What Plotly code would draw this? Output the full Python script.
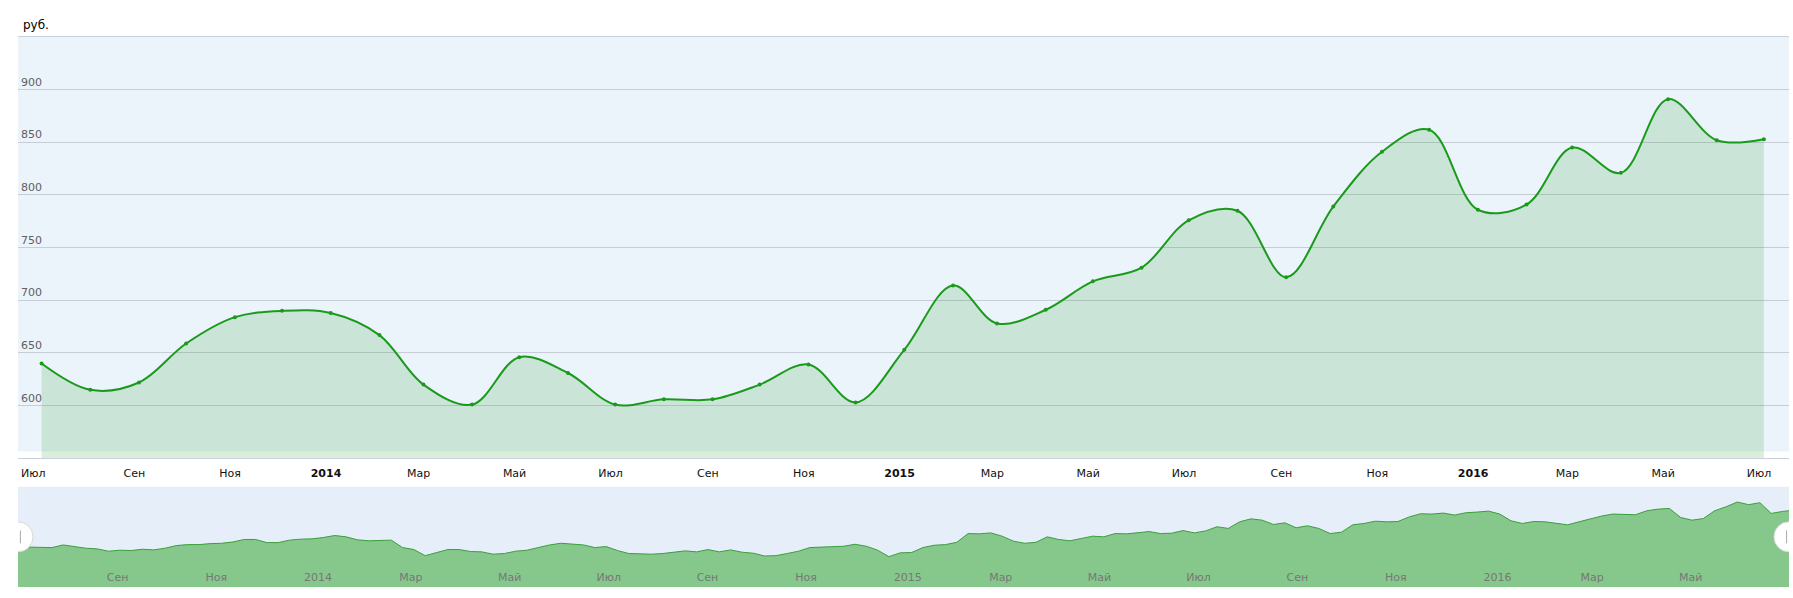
import pandas as pd
import plotly.graph_objects as go

# основной ряд: месячные точки (руб.), 4-е число каждого месяца
month_dates = pd.date_range("2013-07-01", periods=37, freq="MS") + pd.Timedelta(days=3)
price = [640, 615, 622, 659, 684, 690, 688, 667, 620, 601, 646, 631,
         601, 606, 606, 620, 639, 603, 653, 714, 678, 691, 718, 731,
         776, 785, 722, 789, 841, 862, 786, 791, 845, 821, 891, 852, 853]

nav_start = "2013-07-08"
nav_end = "2016-07-08"
nav_price = [640, 640, 640, 636, 652, 640, 632, 628, 614, 620, 618, 626, 622,
             632, 648, 654, 654, 660, 662, 670, 685, 685, 666, 666, 681, 687,
             689, 697, 709, 701, 683, 677, 681, 681, 636, 624, 587, 604, 624,
             624, 612, 610, 596, 600, 614, 620, 636, 652, 662, 656, 652, 636,
             642, 618, 600, 598, 596, 600, 608, 616, 610, 624, 610, 622, 608,
             602, 585, 587, 600, 614, 636, 638, 640, 644, 656, 644, 620, 581,
             604, 606, 636, 650, 654, 668, 721, 719, 725, 705, 675, 662, 668,
             701, 685, 677, 691, 705, 701, 721, 719, 725, 733, 721, 723, 739,
             725, 737, 762, 752, 792, 810, 802, 776, 786, 756, 768, 752, 721,
             729, 774, 782, 796, 792, 794, 822, 841, 839, 845, 833, 847, 851,
             857, 839, 798, 782, 794, 792, 782, 774, 792, 810, 827, 839, 835,
             835, 859, 869, 873, 818, 802, 812, 859, 883, 912, 896, 908, 843,
             855]
nav_last = 859

main_ticks = ["2013-07-01", "2013-09-01", "2013-11-01", "2014-01-01", "2014-03-01",
              "2014-05-01", "2014-07-01", "2014-09-01", "2014-11-01", "2015-01-01",
              "2015-03-01", "2015-05-01", "2015-07-01", "2015-09-01", "2015-11-01",
              "2016-01-01", "2016-03-01", "2016-05-01", "2016-07-01"]
main_labels = ["Июл", "Сен", "Ноя", "<b>2014</b>", "Мар", "Май", "Июл", "Сен", "Ноя",
               "<b>2015</b>", "Мар", "Май", "Июл", "Сен", "Ноя", "<b>2016</b>",
               "Мар", "Май", "Июл"]
nav_ticks = main_ticks[1:-1]
nav_labels = [t.replace("<b>", "").replace("</b>", "") for t in main_labels[1:-1]]

LINE = "#1a9a1a"
FONT = "Verdana, DejaVu Sans, sans-serif"

nav_dates = list(pd.date_range(nav_start, periods=len(nav_price), freq="7D"))
nav_dates.append(pd.Timestamp(nav_end))
nav_values = nav_price + [nav_last]

fig = go.Figure()

fig.add_trace(go.Scatter(
    x=month_dates, y=price,
    mode="lines+markers",
    line=dict(color=LINE, width=2, shape="spline", smoothing=1),
    marker=dict(size=4, color=LINE),
    fill="tozeroy", fillcolor="rgba(30,150,35,0.16)",
    hoverinfo="x+y", showlegend=False,
    xaxis="x", yaxis="y",
))

fig.add_trace(go.Scatter(
    x=nav_dates, y=nav_values,
    mode="lines",
    line=dict(color="#3a9f3a", width=1),
    fill="tozeroy", fillcolor="#86c88b",
    hoverinfo="skip", showlegend=False,
    xaxis="x2", yaxis="y2",
))

# фон графика и навигатора, ручки навигатора
h_days = pd.Timedelta(days=9.3)
ns = pd.Timestamp(nav_start)
ne = pd.Timestamp(nav_end)
shapes = [
    dict(type="rect", xref="x domain", yref="y", x0=0, x1=1, y0=556.5, y1=950,
         fillcolor="#ebf3fb", line_width=0, layer="below"),
    dict(type="rect", xref="x2 domain", yref="y2 domain", x0=0, x1=1, y0=0, y1=1,
         fillcolor="#e6eef9", line_width=0, layer="below"),
]
for c in (ns, ne):
    shapes.append(dict(type="circle", xref="x2", yref="y2",
                       x0=c - h_days, x1=c + h_days, y0=610, y1=792,
                       fillcolor="white", line=dict(color="#d8d8d8", width=1)))
shapes.append(dict(type="line", xref="x2", yref="y2",
                   x0=ns + pd.Timedelta(days=1.5), x1=ns + pd.Timedelta(days=1.5),
                   y0=662, y1=740, line=dict(color="#aaaaaa", width=1)))
shapes.append(dict(type="line", xref="x2", yref="y2",
                   x0=ne - pd.Timedelta(days=1.5), x1=ne - pd.Timedelta(days=1.5),
                   y0=662, y1=740, line=dict(color="#aaaaaa", width=1)))

# первую подпись оси plotly прячет у края (рядом с внутренними подписями y) — рисуем её отдельно
annotations = [
    dict(text="руб.", xref="paper", yref="paper", x=0, y=1,
         xanchor="left", yanchor="middle", xshift=3, yshift=12,
         showarrow=False, font=dict(size=12, color="#000")),
    dict(text=main_labels[0], xref="x", yref="y domain", x=main_ticks[0], y=0,
         xanchor="center", yanchor="top", xshift=-3, yshift=-7,
         showarrow=False, font=dict(size=11, color="#111")),
]

fig.update_layout(
    width=1793, height=598,
    margin=dict(l=18, r=4, t=37, b=11),
    paper_bgcolor="white",
    plot_bgcolor="rgba(0,0,0,0)",
    font=dict(family=FONT, size=11, color="#111"),
    showlegend=False,
    shapes=shapes,
    annotations=annotations,
    xaxis=dict(
        domain=[0, 1], anchor="y",
        range=["2013-06-19", "2016-07-20"],
        tickvals=main_ticks[1:], ticktext=main_labels[1:],
        tickfont=dict(size=11, color="#111"),
        ticklabelstandoff=4,
        showgrid=False, zeroline=False, ticks="",
        showline=True, mirror=True, linecolor="#c8d0da", linewidth=1,
    ),
    yaxis=dict(
        domain=[0.234, 1], anchor="x",
        range=[550, 950],
        tickvals=[600, 650, 700, 750, 800, 850, 900],
        ticklabelposition="inside top",
        tickfont=dict(size=11, color="#606060"),
        gridcolor="#c6cdd6", gridwidth=1,
        zeroline=False, showline=False, ticks="",
    ),
    xaxis2=dict(
        domain=[0, 1], anchor="y2",
        range=[nav_start, nav_end],
        tickvals=nav_ticks, ticktext=nav_labels,
        ticklabelposition="inside right", ticklabelstandoff=-2,
        tickfont=dict(size=11, color="#777777"),
        showgrid=False, zeroline=False, showline=False, ticks="",
    ),
    yaxis2=dict(
        domain=[0, 0.1824], anchor="x2",
        range=[397, 1005],
        showticklabels=False, showgrid=False, zeroline=False, showline=False,
    ),
)

fig.write_html("out.html", config={"displayModeBar": False},
               post_script="document.body.style.margin='0';")
